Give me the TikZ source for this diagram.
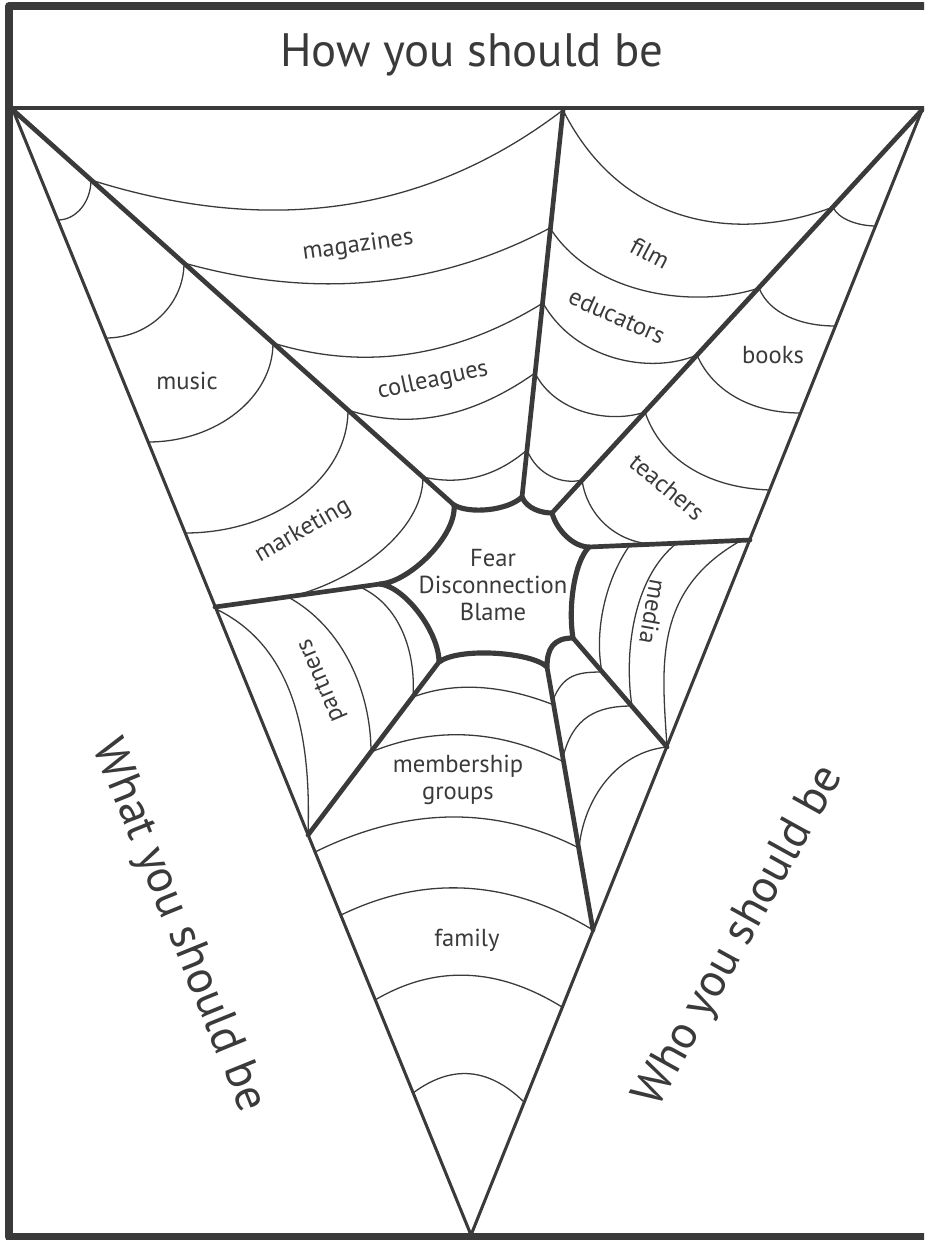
\documentclass[tikz,border=0pt]{standalone}
\usepackage{fontspec}
\setmainfont{PT Sans}
\usetikzlibrary{calc}
\definecolor{ink}{HTML}{3A3A3A}
\newcommand{\qweb}[3]{\draw[thinweb] (#1) .. controls ($(#1)!0.6667!(#2)$) and ($(#3)!0.6667!(#2)$) .. (#3);}
\begin{document}
\begin{tikzpicture}[x=0.03cm,y=-0.03cm, line join=round, line cap=round,
  thinweb/.style={draw=ink, line width=1.1pt},
  side/.style={draw=ink, line width=2.6pt},
  spoke/.style={draw=ink, line width=4pt},
  hub/.style={draw=ink, line width=4.4pt},
  frame/.style={draw=ink, line width=6.5pt, line cap=butt},
  lbl/.style={text=ink, font=\fontsize{21}{23}\selectfont, inner sep=0pt},
  big/.style={text=ink, font=\fontsize{40}{46}\selectfont, inner sep=0pt}]
\useasboundingbox (0,0) rectangle (924,1240);
\clip (0,0) rectangle (924,1240);
% key points
\coordinate (A) at (13,110);
\coordinate (B) at (922,110);
\coordinate (C) at (471,1235);
\coordinate (T) at (563,110);
\coordinate (h1) at (454,505);
\coordinate (h2) at (522,497);
\coordinate (h3) at (552,513);
\coordinate (h4) at (589,547);
\coordinate (h5) at (573,638);
\coordinate (h6) at (547,667);
\coordinate (h7) at (439,662);
\coordinate (h8) at (380,584);
\coordinate (r1) at (750,540);
\coordinate (r2) at (667,747);
\coordinate (r3) at (593,930);
\coordinate (l2) at (308,835);
\coordinate (l1) at (215,607);
% frame
\draw[frame] (940,6) -- (9,6) -- (9,1237) -- (940,1237);
\draw[draw=ink, line width=3.4pt] (9,108) -- (940,108);
% thin threads: sector I
\draw[thinweb] (91,180) .. controls +(0,22) and +(18,0) .. (58,220);
\draw[thinweb] (184,263) .. controls +(0,41) and +(43,0) .. (106,338);
\draw[thinweb] (273,343) .. controls +(0,54) and +(69,0) .. (148,442);
\draw[thinweb] (348,410) .. controls +(0,68) and +(90,0) .. (185,533);
\draw[thinweb] (423,477) .. controls +(0,55) and +(60,-15) .. (293,596);
% sector II
\qweb{91,180}{360,265}{563,110}
\qweb{184,263}{380,318}{550,228}
\qweb{273,343}{410,385}{543,303}
\qweb{348,410}{440,440}{535,373}
\qweb{423,477}{480,490}{527,450}
% sector III
\draw[thinweb] (563,110) .. controls +(60,120) and +(-90,35) .. (833,207);
\draw[thinweb] (550,228) .. controls +(45,70) and +(-60,20) .. (759,288);
\draw[thinweb] (543,303) .. controls +(32,57) and +(-47,20) .. (697,355);
\draw[thinweb] (535,373) .. controls +(20,40) and +(-35,12) .. (645,412);
\draw[thinweb] (527,450) .. controls +(10,25) and +(-20,5) .. (582,480);
% sector IV
\draw[thinweb] (833,207) .. controls +(5,12) and +(-18,0) .. (876,226);
\draw[thinweb] (759,288) .. controls +(10,25) and +(-35,0) .. (835,326);
\draw[thinweb] (697,355) .. controls +(15,35) and +(-50,0) .. (800,413);
\draw[thinweb] (645,412) .. controls +(15,45) and +(-65,-2) .. (770,490);
\draw[thinweb] (582,480) .. controls +(5,35) and +(-35,-3) .. (650,544);
% sector V
\draw[thinweb] (630,545) .. controls +(-25,35) and +(-8,-40) .. (602,672);
\draw[thinweb] (677,543) .. controls +(-45,35) and +(-8,-50) .. (632,706);
\draw[thinweb] (742,540) .. controls +(-90,50) and +(-5,-80) .. (r2);
% sector VI
\draw[thinweb] (553,700) .. controls +(10,-25) and +(-25,0) .. (602,672);
\draw[thinweb] (563,757) .. controls +(10,-40) and +(-35,0) .. (632,706);
\draw[thinweb] (579,848) .. controls +(5,-50) and +(-50,5) .. (r2);
% sector VII
\qweb{413,697}{475,674}{554,705}
\qweb{371,752}{467,713}{564,762}
\qweb{315,852}{453,784}{579,848}
\qweb{341,915}{467,854}{593,930}
\qweb{375,1000}{465,947}{562,1007}
\qweb{413,1093}{471,1050}{524,1102}
% sector VIII
\draw[thinweb] (360,587) .. controls +(40,18) and +(3,-45) .. (413,697);
\draw[thinweb] (288,597) .. controls +(55,30) and +(0,-60) .. (371,752);
\draw[thinweb] (218,610) .. controls +(80,40) and +(3,-90) .. (l2);
% triangle sides
\draw[side] (A) -- (C) -- (B);
% spokes
\draw[spoke] (A) -- (h1);
\draw[spoke] (T) -- (h2);
\draw[spoke] (B) -- (h3);
\draw[spoke] (h4) -- (r1);
\draw[spoke] (h5) -- (r2);
\draw[spoke] (h6) -- (r3);
\draw[spoke] (h7) -- (l2);
\draw[spoke] (l1) -- (h8);
% hub
\draw[hub] (h1) .. controls +(15,9) and +(-15,14) .. (h2)
  .. controls +(5,12) and +(-10,0) .. (h3)
  .. controls +(5,18) and +(-15,0) .. (h4)
  .. controls +(-15,15) and +(-5,-30) .. (h5)
  .. controls +(-20,0) and +(0,-18) .. (h6)
  .. controls +(-15,-15) and +(20,-15) .. (h7)
  .. controls +(0,-30) and +(25,3) .. (h8)
  .. controls +(30,-2) and +(3,30) .. (h1);
% labels
\node[big] (title) at (472,55) {How you should be};
\node[big, rotate=-68] (what) at (178,926) {What you should be};
\node[big, rotate=61] (who) at (740,937) {Who you should be};
\node[lbl, rotate=8] (magazines) at (358,246) {magazines};
\node[lbl, rotate=12] (colleagues) at (433,381) {colleagues};
\node[lbl] (music) at (187,381) {music};
\node[lbl, rotate=30] (marketing) at (303,531) {marketing};
\node[lbl, rotate=-28] (film) at (650,253) {film};
\node[lbl, rotate=-24] (educators) at (617,316) {educators};
\node[lbl] (books) at (773,355) {books};
\node[lbl, rotate=-40] (teachers) at (667,487) {teachers};
\node[lbl, align=center] (core) at (493,585) {Fear\\Disconnection\\Blame};
\node[lbl, rotate=-100] (media) at (653,612) {media};
\node[lbl, rotate=113] (partners) at (322,680) {partners};
\node[lbl, align=center] (member) at (458,780) {membership\\groups};
\node[lbl] (family) at (467,940) {family};
\end{tikzpicture}
\end{document}
